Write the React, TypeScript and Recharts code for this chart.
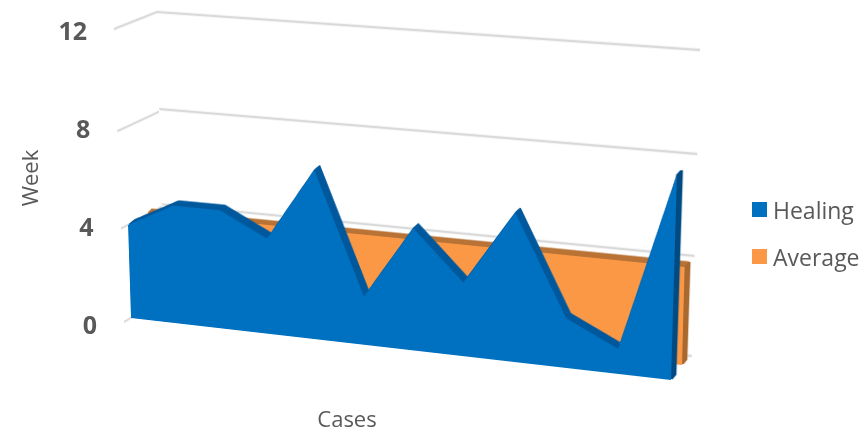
import React from "react";
import { Area, AreaChart, CartesianGrid, Label, Legend, ReferenceLine, XAxis, YAxis } from "recharts";

const cases = [1, 2, 3, 4, 5, 6, 7, 8, 9, 10, 11, 12];
const healing = [4, 5, 5, 4, 7, 2, 5, 3, 6, 2, 1, 8];
const average = [4, 4, 4, 4, 4, 4, 4, 4, 4, 4, 4, 4];
const weekTicks = [0, 4, 8, 12];
const seriesNames = ["Healing", "Average"];
const seriesColors = ["#0070c0", "#fa9846"];

const rows = cases.map((c, i) => ({ case: c, healing: healing[i], average: average[i] }));

type Pt = [number, number];
type Quad = [Pt, Pt, Pt, Pt]; // top-left, top-right, bottom-right, bottom-left

const PLOT_W = 560;
const PLOT_H = 300;
const PAD = 10;
const TEXT = "#595959";
const GRID = "#d9d9d9";
const FONT = "'Open Sans', sans-serif";

// the planes of the fake 3d box, in page pixels
const backWall: Quad = [[157, 12], [700, 50], [692, 356], [164, 298]];
const sideWall: Quad = [[114, 29], [157, 12], [164, 298], [124, 322]];
const orangeFront: Quad = [[142, 21], [690, 65], [682, 365], [150, 306]];
const orangeBack: Quad = [[146, 17], [696, 59], [686, 360], [154, 302]];
const blueFront: Quad = [[122, 33], [680, 69], [671, 380], [131, 318]];
const blueBack: Quad = [[128, 28], [685, 64], [675, 375], [137, 313]];

const sweep = [1, 0.83, 0.67, 0.5, 0.33, 0.17];

function lerpQuad(a: Quad, b: Quad, t: number): Quad {
  return a.map((p, i) => [p[0] + (b[i][0] - p[0]) * t, p[1] + (b[i][1] - p[1]) * t]) as Quad;
}

// homography from the PLOT_W x PLOT_H rectangle onto a quad
function planeMatrix(q: Quad) {
  const [[x0, y0], [x1, y1], [x2, y2], [x3, y3]] = q;
  const dx1 = x1 - x2, dx2 = x3 - x2, sx = x0 - x1 + x2 - x3;
  const dy1 = y1 - y2, dy2 = y3 - y2, sy = y0 - y1 + y2 - y3;
  const det = dx1 * dy2 - dx2 * dy1;
  const g = (sx * dy2 - dx2 * sy) / det;
  const h = (dx1 * sy - sx * dy1) / det;
  const a = x1 - x0 + g * x1, b = x3 - x0 + h * x3;
  const d = y1 - y0 + g * y1, e = y3 - y0 + h * y3;
  const m = [a / PLOT_W, d / PLOT_W, 0, g / PLOT_W, b / PLOT_H, e / PLOT_H, 0, h / PLOT_H, 0, 0, 1, 0, x0, y0, 0, 1];
  return `matrix3d(${m.join(",")})`;
}

function Plane({ quad, children }: { quad: Quad; children: React.ReactNode }) {
  return (
    <div
      style={{
        position: "absolute",
        left: 0,
        top: 0,
        width: PLOT_W,
        height: PLOT_H,
        transformOrigin: "0 0",
        transform: planeMatrix(quad),
      }}
    >
      <div style={{ position: "absolute", left: -PAD, top: -PAD }}>
        <AreaChart
          width={PLOT_W + PAD * 2}
          height={PLOT_H + PAD * 2}
          data={rows}
          margin={{ top: PAD, right: PAD, bottom: PAD, left: PAD }}
        >
          <XAxis hide type="number" dataKey="case" domain={[1, 12]} />
          <YAxis hide type="number" domain={[0, 12]} ticks={weekTicks} interval={0} />
          {children}
        </AreaChart>
      </div>
    </div>
  );
}

// axes only produce ticks when the chart holds a series, so these charts carry an unpainted one
function Wall({ quad }: { quad: Quad }) {
  return (
    <Plane quad={quad}>
      <CartesianGrid vertical={false} stroke={GRID} strokeWidth={2.5} />
      <Area dataKey="healing" fill="none" stroke="none" isAnimationActive={false} dot={false} />
    </Plane>
  );
}

function Extruded({ front, back, dataKey, fill, band, side }: { front: Quad; back: Quad; dataKey: string; fill: string; band: string; side: string }) {
  const top = dataKey === "healing" ? healing[healing.length - 1] : average[average.length - 1];
  return (
    <>
      {sweep.map((t) => (
        <Plane key={t} quad={lerpQuad(front, back, t)}>
          <Area dataKey={dataKey} fill={band} fillOpacity={1} stroke={band} strokeWidth={1} isAnimationActive={false} dot={false} />
          <ReferenceLine segment={[{ x: 12, y: 0 }, { x: 12, y: top }]} stroke={side} strokeWidth={2.5} />
        </Plane>
      ))}
      <Plane quad={front}>
        <Area dataKey={dataKey} fill={fill} fillOpacity={1} stroke="none" isAnimationActive={false} dot={false} />
      </Plane>
    </>
  );
}

// week labels drift right as they go down, following the box edge
function WeekTick({ x, y, payload }: any) {
  const drift = ((12 - payload.value) * 10) / 12;
  return (
    <text x={x + 7 + drift} y={y} dy={9} textAnchor="end" fill={TEXT} fontSize={25} fontWeight={700} fontFamily={FONT}>
      {payload.value}
    </text>
  );
}

function LegendBox() {
  return (
    <div style={{ fontFamily: FONT, fontSize: 23, color: TEXT }}>
      {seriesNames.map((name, i) => (
        <div key={name} style={{ display: "flex", alignItems: "center", height: 47, whiteSpace: "nowrap" }}>
          <span style={{ width: 15, height: 15, background: seriesColors[i], marginRight: 6 }} />
          {name}
        </div>
      ))}
    </div>
  );
}

export default function App() {
  return (
    <div style={{ position: "absolute", left: 0, top: 0, width: 865, height: 432, overflow: "hidden", background: "#fff" }}>
      <Wall quad={backWall} />
      <Wall quad={sideWall} />
      <Extruded front={orangeFront} back={orangeBack} dataKey="average" fill={seriesColors[1]} band="#b97234" side="#a8682f" />
      <Extruded front={blueFront} back={blueBack} dataKey="healing" fill={seriesColors[0]} band="#00589c" side="#004a82" />
      <div style={{ position: "absolute", left: 0, top: 0 }}>
        <AreaChart width={865} height={432} data={rows} margin={{ top: 31, right: 146, bottom: 0, left: 0 }}>
          <XAxis type="number" dataKey="case" domain={[1, 12]} tick={false} axisLine={false} tickLine={false} height={107}>
            <Label value="Cases" position="insideBottom" offset={5} fill={TEXT} fontSize={22} fontFamily={FONT} />
          </XAxis>
          <YAxis
            type="number"
            domain={[0, 12]}
            ticks={weekTicks}
            interval={0}
            width={88}
            axisLine={false}
            tickLine={false}
            tick={WeekTick}
          >
            <Label value="Week" angle={-90} position="insideLeft" offset={30} textAnchor="middle" fill={TEXT} fontSize={22} fontFamily={FONT} />
          </YAxis>
          <Area dataKey="healing" fill="none" stroke="none" isAnimationActive={false} dot={false} legendType="none" />
          <Legend
            layout="vertical"
            align="right"
            verticalAlign="middle"
            content={LegendBox}
            wrapperStyle={{ position: "absolute", left: 752, top: 186, width: 113, bottom: "auto", right: "auto" }}
          />
        </AreaChart>
      </div>
    </div>
  );
}
